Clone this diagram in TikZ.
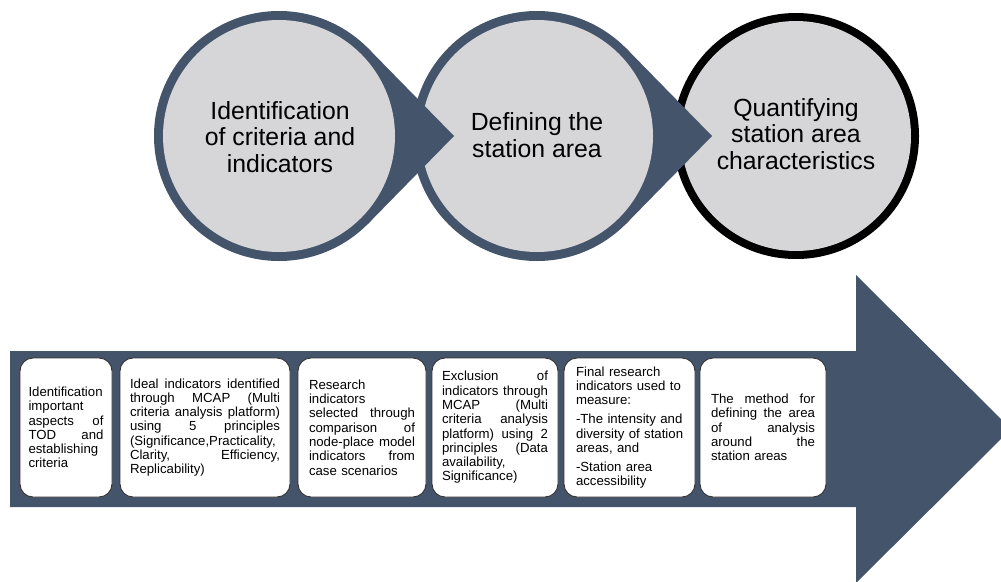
\documentclass[tikz,border=0pt]{standalone}
\usepackage{fontspec}
\setmainfont{Liberation Sans}
\definecolor{slate}{HTML}{44546A}
\definecolor{lightg}{HTML}{D6D6D8}
\definecolor{boxline}{HTML}{333333}
\newcommand\bw{100pt}
\newcommand\J[1]{\leavevmode\hbox to \bw{#1}}
\begin{document}
\begin{tikzpicture}[x=1pt,y=-1pt,
  boxt/.style={draw=boxline, line width=0.9pt, fill=white, rounded corners=13pt,
    minimum height=139pt, inner xsep=0pt, inner ysep=0pt, align=left,
    font=\fontsize{13.2}{14.3}\selectfont},
  circt/.style={align=center, font=\fontsize{24.8}{26.5}\selectfont}]
\useasboundingbox (0,0) rectangle (1001,581);
\clip (0,0) rectangle (1001,581);

% big arrow
\fill[slate] (10,351) -- (856,351) -- (856,275) -- (1011,429) -- (856,583)
  -- (856,507) -- (10,507) -- cycle;

% circle 3
\fill[black] (796,136) circle (123);
\fill[lightg] (796,136) circle (115);

% circle 2 (teardrop)
\fill[slate] (537,136) circle (125);
\fill[slate] (626.3,48.5) -- (712,136) -- (626.3,223.5) -- (537,136) -- cycle;
\fill[lightg] (537,136) circle (116);

% circle 1 (teardrop)
\fill[slate] (279,136) circle (125);
\fill[slate] (368.3,48.5) -- (454,136) -- (368.3,223.5) -- (279,136) -- cycle;
\fill[lightg] (279,136) circle (116);

\node[circt] (c1) at (280,137) {Identification\\of criteria and\\indicators};
\node[circt] (c2) at (537,135) {Defining the\\station area};
\node[circt] (c3) at (796,134) {Quantifying\\station area\\characteristics};

\node[boxt, minimum width=92pt, text width=75pt] (b1) at (66,427.5)
  {\renewcommand\bw{75pt}\mbox{Identification}\\\mbox{important}\\\J{aspects\hfill of}\\\J{TOD\hfill and}\\\mbox{establishing}\\\mbox{criteria}};
\node[boxt, minimum width=170pt, text width=150pt] (b2) at (205,427.5)
  {\renewcommand\bw{150pt}\J{Ideal\hfill indicators\hfill identified}\\\J{through\hfill MCAP\hfill (Multi}\\\J{criteria\hfill analysis\hfill platform)}\\\J{using\hfill 5\hfill principles}\\\mbox{(Significance,Practicality,}\\\J{Clarity,\hfill Efficiency,}\\\mbox{Replicability)}};
\node[boxt, minimum width=128pt, text width=106pt] (b3) at (362,427.5)
  {\renewcommand\bw{106pt}\mbox{Research}\\\mbox{indicators}\\\J{selected\hfill through}\\\J{comparison\hfill of}\\\J{node-place\hfill model}\\\J{indicators\hfill from}\\\mbox{case scenarios}};
\node[boxt, minimum width=126pt, text width=106pt] (b4) at (495,427.5)
  {\renewcommand\bw{106pt}\J{Exclusion\hfill of}\\\J{indicators\hfill through}\\\J{MCAP\hfill (Multi}\\\J{criteria\hfill analysis}\\\J{platform)\hfill using\hfill 2}\\\J{principles\hfill (Data}\\\mbox{availability,}\\\mbox{Significance)}};
\node[boxt, minimum width=131pt, text width=107pt] (b5) at (629.5,427.5)
  {\mbox{Final research}\\\mbox{indicators used to}\\\mbox{measure:}\\[4.7pt]\mbox{-The intensity and}\\\mbox{diversity of station}\\\mbox{areas, and}\\[4.7pt]\mbox{-Station area}\\\mbox{accessibility}};
\node[boxt, minimum width=126pt, text width=104pt] (b6) at (763,427.5)
  {\renewcommand\bw{104pt}\J{The\hfill method\hfill for}\\\J{defining\hfill the\hfill area}\\\J{of\hfill analysis}\\\J{around\hfill the}\\\mbox{station areas}};
\end{tikzpicture}
\end{document}
